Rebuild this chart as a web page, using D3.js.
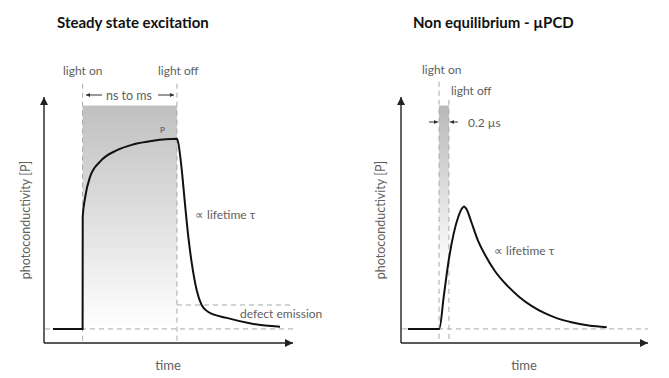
<!DOCTYPE html>
<html><head><meta charset="utf-8">
<script src="https://cdn.jsdelivr.net/npm/d3@7"></script>
<style>body{margin:0;background:#fff}svg{display:block}</style>
</head><body>
<script>
// ---- data ----
const titles = ["Steady state excitation", "Non equilibrium - \u00b5PCD"];
// steady state curve: time (a.u. 0-100), photoconductivity (norm., plateau = 1)
const ssTime  = [3.6, 15.5, 15.55, 16.5, 18.5, 22.5, 29.3, 35.7, 43.8, 53.4, 53.9, 55.3, 56.6, 58.0, 59.3, 61.3, 63.3, 66.0, 73.4, 84.1, 94.8];
const ssValue = [0, 0, 0.59, 0.69, 0.80, 0.88, 0.94, 0.97, 0.99, 1.0, 0.98, 0.84, 0.66, 0.48, 0.35, 0.205, 0.126, 0.089, 0.058, 0.026, 0.011];
// µPCD curve
const neTime  = [2.8, 15.5, 17.3, 19.3, 21.3, 23.2, 24.6, 25.5, 26.6, 28.4, 31.0, 34.0, 38.0, 43.0, 48.0, 53.0, 58.0, 63.0, 69.0, 76.0, 83.3];
const neValue = [0, 0, 0.17, 0.36, 0.50, 0.59, 0.632, 0.644, 0.628, 0.565, 0.47, 0.39, 0.305, 0.228, 0.167, 0.12, 0.084, 0.057, 0.035, 0.018, 0.009];
// markers
const ssLightOn = 15.5, ssLightOff = 53.4, ssDefect = 0.126;
const neLightOn = 15.4, neLightOff = 19.4;
const axisLabels = ["photoconductivity [P]", "time"];

const W = 669, H = 378;
const svg = d3.select("body").append("svg").attr("width", W).attr("height", H);
const FONT = "Lato, 'Open Sans', sans-serif";
const GRAY = "#606060";

const defs = svg.append("defs");
function grad(id, top, stopOff) {
  const g = defs.append("linearGradient").attr("id", id).attr("x1", 0).attr("y1", 0).attr("x2", 0).attr("y2", 1);
  g.append("stop").attr("offset", "0%").attr("stop-color", top);
  g.append("stop").attr("offset", stopOff).attr("stop-color", "#ffffff");
}
grad("gL", "#c0c0c0", "100%");
grad("gR", "#b8b8b8", "72%");
defs.append("marker").attr("id", "ah").attr("viewBox", "0 0 10 10").attr("refX", 10).attr("refY", 5)
  .attr("markerWidth", 10).attr("markerHeight", 8).attr("markerUnits", "userSpaceOnUse").attr("orient", "auto")
  .append("path").attr("d", "M0,0L10,5L0,10z").attr("fill", "#222");
defs.append("marker").attr("id", "sa").attr("viewBox", "0 0 10 10").attr("refX", 10).attr("refY", 5)
  .attr("markerWidth", 5).attr("markerHeight", 4).attr("markerUnits", "userSpaceOnUse").attr("orient", "auto")
  .append("path").attr("d", "M0,0L10,5L0,10z").attr("fill", "#333");

function panel(cfg) {
  const x = d3.scaleLinear().domain([0, 100]).range([cfg.x0, cfg.x1]);
  const y = d3.scaleLinear().domain([-0.074, 1.22]).range([343, 97]);
  const g = svg.append("g");

  // shaded illumination window
  g.append("rect").attr("x", x(cfg.on)).attr("width", x(cfg.off) - x(cfg.on))
    .attr("y", y(1.175)).attr("height", y(0) - y(1.175)).attr("fill", `url(#${cfg.grad})`);

  // dashed guides
  const dash = (x1, y1, x2, y2) => g.append("line").attr("x1", x1).attr("y1", y1).attr("x2", x2).attr("y2", y2)
    .attr("stroke", "#a8a8a8").attr("stroke-width", 1).attr("stroke-dasharray", "5,4");
  dash(x(cfg.on), y(cfg.onTop), x(cfg.on), y(-0.074));
  dash(x(cfg.off), y(cfg.offTop), x(cfg.off), y(-0.074));
  dash(x(0.4), y(0), x(100), y(0));
  if (cfg.defect != null) dash(x(cfg.off), y(cfg.defect), x(100), y(cfg.defect));

  // axes
  g.append("line").attr("x1", x(0)).attr("y1", y(-0.074)).attr("x2", x(0)).attr("y2", y(1.22))
    .attr("stroke", "#222").attr("stroke-width", 1.4).attr("marker-end", "url(#ah)");
  g.append("line").attr("x1", x(0)).attr("y1", y(-0.074)).attr("x2", x(100)).attr("y2", y(-0.074))
    .attr("stroke", "#222").attr("stroke-width", 1.4).attr("marker-end", "url(#ah)");

  // curve
  const pts = cfg.t.map((t, i) => [t, cfg.v[i]]);
  g.append("path").datum(pts)
    .attr("d", d3.line().x(d => x(d[0])).y(d => y(d[1])).curve(d3.curveMonotoneX))
    .attr("fill", "none").attr("stroke", "#111").attr("stroke-width", 2);

  // texts
  const txt = (s, tx, ty, opt = {}) => g.append("text").attr("x", tx).attr("y", ty)
    .attr("font-family", FONT).attr("font-size", opt.size || 12).attr("fill", opt.fill || GRAY)
    .attr("font-weight", opt.weight || "normal").attr("text-anchor", opt.anchor || "start")
    .attr("dominant-baseline", "central").text(s);
  txt(cfg.title, cfg.titleX, 22, {size: 15, weight: "bold", fill: "#111"});
  txt(axisLabels[1], cfg.timeX, 365, {size: 13, anchor: "middle"});
  g.append("text").attr("transform", `translate(${cfg.yLabX},220) rotate(-90)`)
    .attr("font-family", FONT).attr("font-size", 12.5).attr("fill", GRAY).attr("text-anchor", "middle")
    .attr("dominant-baseline", "central").text(axisLabels[0]);
  cfg.texts.forEach(t => txt(t[0], t[1], t[2], t[3] || {}));

  // small dimension arrows
  cfg.arrows.forEach(a => g.append("line").attr("x1", a[0]).attr("y1", a[1]).attr("x2", a[2]).attr("y2", a[1])
    .attr("stroke", "#333").attr("stroke-width", 1).attr("marker-end", "url(#sa)"));
  return {x, y};
}

panel({
  x0: 44, x1: 293, on: ssLightOn, off: ssLightOff, onTop: 1.29, offTop: 1.29, defect: ssDefect,
  grad: "gL", t: ssTime, v: ssValue, title: titles[0], titleX: 57, timeX: 168, yLabX: 25,
  texts: [["light on", 63, 70], ["light off", 158, 70], ["ns to ms", 129, 95, {anchor: "middle", size: 12.5}],
          ["P", 160, 130, {size: 8, fill: "#4a3f66"}], ["\u221d lifetime \u03c4", 195, 214],
          ["defect emission", 240, 313]],
  arrows: [[102, 95, 86], [158, 95, 174]]
});
panel({
  x0: 401, x1: 648, on: neLightOn, off: neLightOff, onTop: 1.30, offTop: 1.205, defect: null,
  grad: "gR", t: neTime, v: neValue, title: titles[1], titleX: 413, timeX: 524, yLabX: 380,
  texts: [["light on", 422, 69], ["light off", 451, 90], ["0.2 \u00b5s", 468, 122],
          ["\u221d lifetime \u03c4", 494, 250]],
  arrows: [[429, 122, 438], [458, 122, 450]]
});
</script>
</body></html>
